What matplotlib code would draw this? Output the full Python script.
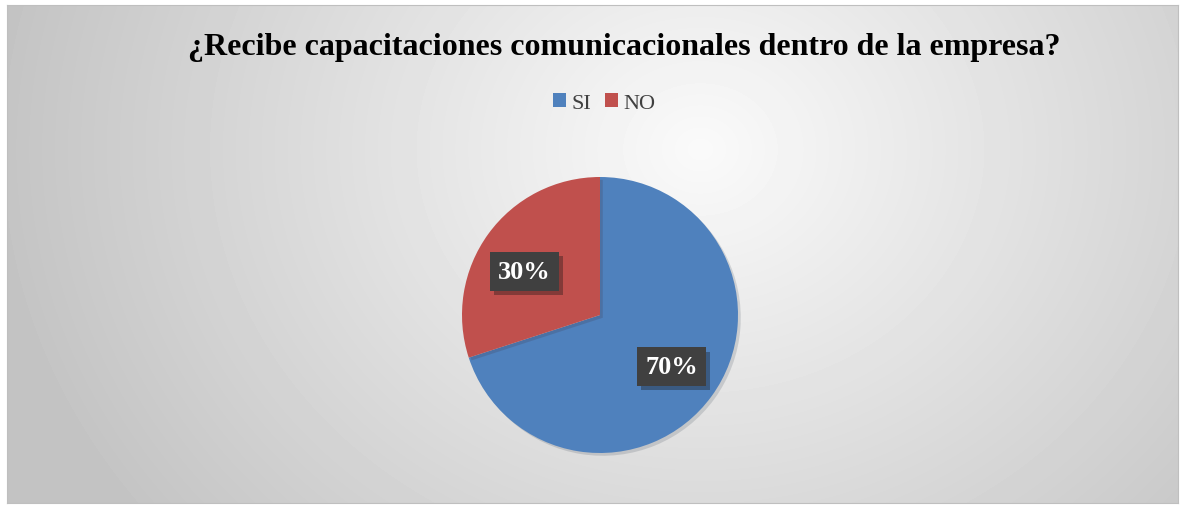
import numpy as np
import matplotlib
matplotlib.use("Agg")
from matplotlib import pyplot as plt
from matplotlib.patches import Patch
import matplotlib.patheffects as pe

plt.rcParams["font.family"] = ["Liberation Serif", "DejaVu Serif"]

titulo = "¿Recibe capacitaciones comunicacionales dentro de la empresa?"
categorias = ["SI", "NO"]
porcentajes = [70, 30]
colores = ["#4F81BD", "#C0504D"]

W, H = 1186, 506
fig = plt.figure(figsize=(W / 100, H / 100), dpi=100)
fig.patch.set_facecolor("white")

# fondo con degradado radial gris
x0, y0, x1, y1 = 7, 6, 1178, 504
bg = fig.add_axes([x0 / W, 1 - y1 / H, (x1 - x0) / W, (y1 - y0) / H])
xx, yy = np.meshgrid(np.arange(x0, x1), np.arange(y0, y1))
d = np.sqrt(((xx - 700) / 700.0) ** 2 + ((yy - 150) / 600.0) ** 2)
val = np.clip(250 - 54 * d, 196, 250) / 255.0
bg.imshow(val, cmap="gray", vmin=0, vmax=1, aspect="auto", interpolation="bilinear")
bg.set_xticks([])
bg.set_yticks([])
for s in bg.spines.values():
    s.set_color("#bfbfbf")
    s.set_linewidth(0.8)

fig.text(624 / W, 1 - 48 / H, titulo, ha="center", va="center",
         fontsize=23, fontweight="bold", color="black")

# grafico de pastel
cx, cy, r = 600, 316, 138
ax = fig.add_axes([(cx - r) / W, 1 - (cy + r) / H, 2 * r / W, 2 * r / H])
wedges, textos = ax.pie(porcentajes, colors=colores, startangle=90, counterclock=False,
                        radius=1, labels=["%d%%" % p for p in porcentajes],
                        labeldistance=0.64,
                        textprops=dict(color="white", fontsize=19, fontweight="bold",
                                       ha="center", va="center"))
# la etiqueta de NO queda un poco mas abajo
px, py = textos[1].get_position()
textos[1].set_position((px - 0.03, py - 0.06))
for w in wedges:
    w.set_path_effects([pe.SimplePatchShadow(offset=(2, -2), alpha=0.15), pe.Normal()])
for t in textos:
    t.set_bbox(dict(facecolor="#404040", edgecolor="none", boxstyle="square,pad=0.3"))
    t.get_bbox_patch().set_path_effects([pe.SimplePatchShadow(offset=(3, -3), alpha=0.35),
                                         pe.Normal()])
ax.set_xlim(-1, 1)
ax.set_ylim(-1, 1)
ax.axis("off")

handles = [Patch(facecolor=c, edgecolor="none") for c in colores]
leg = fig.legend(handles, categorias, loc="center", bbox_to_anchor=(604 / W, 1 - 104 / H),
                 ncol=2, frameon=False, fontsize=16, handlelength=0.6, handleheight=0.6,
                 handletextpad=0.25, columnspacing=0.6)
for t in leg.get_texts():
    t.set_color("#404040")

fig.savefig("out.png", dpi=100)
